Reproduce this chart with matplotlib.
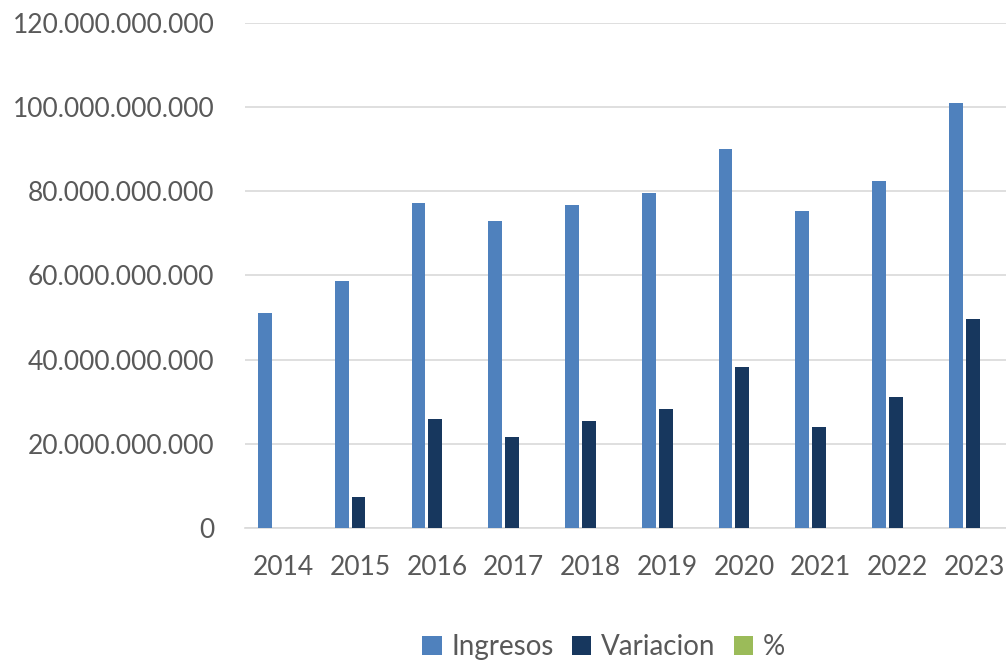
import numpy as np
import matplotlib
matplotlib.use("Agg")
import matplotlib.pyplot as plt
from matplotlib.ticker import FuncFormatter

plt.rcParams["font.family"] = ["Lato", "DejaVu Sans"]

anios = ["2014", "2015", "2016", "2017", "2018", "2019", "2020", "2021", "2022", "2023"]
ingresos = [51.1e9, 58.7e9, 77.3e9, 73.0e9, 76.8e9, 79.7e9, 90.1e9, 75.4e9, 82.5e9, 101.1e9]
variacion = [0, 7.4e9, 25.9e9, 21.6e9, 25.4e9, 28.3e9, 38.3e9, 24.0e9, 31.2e9, 49.7e9]
porcentaje = [0, 14.6, 33.6, 29.6, 33.1, 35.5, 42.5, 31.9, 37.8, 49.1]

gris = "#595959"
fig = plt.figure(figsize=(10.06, 6.62), dpi=100)
ax = fig.add_axes([0.2435, 0.2029, 0.763, 0.762])

x = np.arange(len(anios))
w = 0.18
ax.bar(x - 0.24, ingresos, w, color="#4F81BD", label="Ingresos", zorder=3)
ax.bar(x - 0.02, variacion, w, color="#17375E", label="Variacion", zorder=3)
ax.bar(x + 0.20, porcentaje, w, color="#9BBB59", label="%", zorder=3)

ax.set_xlim(-0.5, len(anios) - 0.5)
ax.set_ylim(0, 120e9)
ax.set_yticks(np.arange(0, 121e9, 20e9))
ax.yaxis.set_major_formatter(FuncFormatter(lambda v, p: f"{int(round(v)):,}".replace(",", ".")))
ax.set_xticks(x)
ax.set_xticklabels(anios)

ax.grid(axis="y", color="#D9D9D9", linewidth=1.2, zorder=0)
for s in ["top", "right", "left"]:
    ax.spines[s].set_visible(False)
ax.spines["bottom"].set_color("#D9D9D9")
ax.spines["bottom"].set_linewidth(1.2)
ax.tick_params(axis="both", length=0, labelsize=19, colors=gris)
ax.tick_params(axis="y", pad=22)
ax.tick_params(axis="x", pad=20)

fig.legend(loc="center", bbox_to_anchor=(0.600, 0.022), ncol=3, frameon=False,
           fontsize=20, labelcolor=gris, handlelength=0.7, handleheight=0.7,
           handletextpad=0.35, columnspacing=0.65)

fig.savefig("out.png", dpi=100)
